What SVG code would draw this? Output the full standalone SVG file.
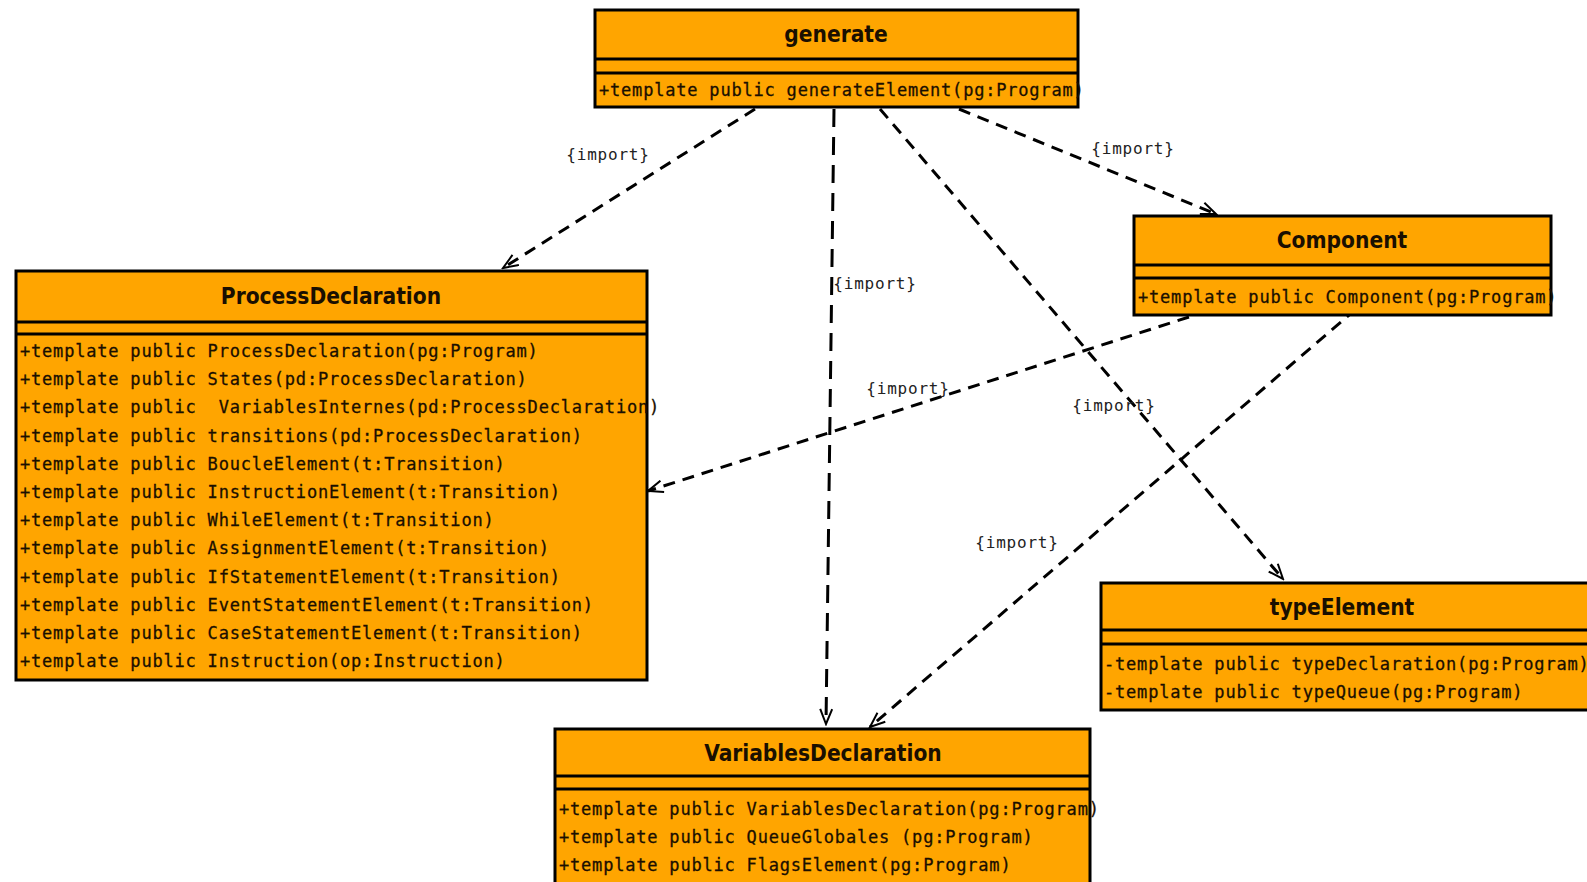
<svg xmlns="http://www.w3.org/2000/svg" width="1587" height="882" viewBox="0 0 1587 882">
  <style>
    .box { fill: #FFA500; stroke: #000; stroke-width: 3; }
    .sep { stroke: #000; stroke-width: 3; }
    .title { font-family: "DejaVu Sans Condensed", "DejaVu Sans", sans-serif; font-stretch: condensed; font-weight: bold; font-size: 22.5px; fill: #1a0f00; text-anchor: middle; }
    .op { font-family: "DejaVu Sans Mono", "Liberation Mono", monospace; font-size: 17px; letter-spacing: 0.8px; fill: #1a0f00; white-space: pre; stroke: #1a0f00; stroke-width: 0.3; }
    .dep { fill: none; stroke: #000; stroke-width: 3; stroke-dasharray: 12 8; marker-end: url(#open); }
    .long { stroke-dasharray: 18 10; }
    .lbl { font-family: "DejaVu Sans Mono", "Liberation Mono", monospace; font-size: 16px; letter-spacing: 0.8px; fill: #222; text-anchor: middle; }
  </style>
  <defs>
    <marker id="open" markerWidth="18" markerHeight="14" refX="16" refY="7" orient="auto" markerUnits="userSpaceOnUse">
      <path d="M1,1 L16,7 L1,13" fill="none" stroke="#000" stroke-width="2"/>
    </marker>
  </defs>
  <rect width="1587" height="882" fill="#fff"/>

  <!-- dependency connectors -->
  <g id="connectors">
    <line class="dep" x1="755" y1="109" x2="503" y2="268"/>
    <line class="dep long" x1="834" y1="109" x2="826" y2="724"/>
    <line class="dep" x1="880" y1="109" x2="1283" y2="579"/>
    <line class="dep" x1="959" y1="109" x2="1216" y2="214"/>
    <line class="dep" x1="1189" y1="317" x2="648" y2="491"/>
    <line class="dep" x1="1356" y1="309" x2="870" y2="727"/>
    <text class="lbl" x="608" y="160">{import}</text>
    <text class="lbl" x="875" y="289">{import}</text>
    <text class="lbl" x="1114" y="411">{import}</text>
    <text class="lbl" x="1133" y="154">{import}</text>
    <text class="lbl" x="908" y="394">{import}</text>
    <text class="lbl" x="1017" y="548">{import}</text>
  </g>

  <!-- generate -->
  <g id="generate">
    <rect class="box" x="595" y="10" width="483" height="97"/>
    <line class="sep" x1="595" y1="59" x2="1078" y2="59"/>
    <line class="sep" x1="595" y1="73" x2="1078" y2="73"/>
    <text class="title" x="836" y="42">generate</text>
    <text class="op" x="599" y="96">+template public generateElement(pg:Program)</text>
  </g>

  <!-- Component -->
  <g id="Component">
    <rect class="box" x="1134" y="216" width="417" height="99"/>
    <line class="sep" x1="1134" y1="265" x2="1551" y2="265"/>
    <line class="sep" x1="1134" y1="278" x2="1551" y2="278"/>
    <text class="title" x="1342" y="248">Component</text>
    <text class="op" x="1138" y="303">+template public Component(pg:Program)</text>
  </g>

  <!-- ProcessDeclaration -->
  <g id="ProcessDeclaration">
    <rect class="box" x="16" y="271" width="631" height="409"/>
    <line class="sep" x1="16" y1="322" x2="647" y2="322"/>
    <line class="sep" x1="16" y1="334" x2="647" y2="334"/>
    <text class="title" x="331" y="304">ProcessDeclaration</text>
    <text class="op" x="20" y="357">+template public ProcessDeclaration(pg:Program)</text>
    <text class="op" x="20" y="385">+template public States(pd:ProcessDeclaration)</text>
    <text class="op" x="20" y="413">+template public  VariablesInternes(pd:ProcessDeclaration)</text>
    <text class="op" x="20" y="442">+template public transitions(pd:ProcessDeclaration)</text>
    <text class="op" x="20" y="470">+template public BoucleElement(t:Transition)</text>
    <text class="op" x="20" y="498">+template public InstructionElement(t:Transition)</text>
    <text class="op" x="20" y="526">+template public WhileElement(t:Transition)</text>
    <text class="op" x="20" y="554">+template public AssignmentElement(t:Transition)</text>
    <text class="op" x="20" y="583">+template public IfStatementElement(t:Transition)</text>
    <text class="op" x="20" y="611">+template public EventStatementElement(t:Transition)</text>
    <text class="op" x="20" y="639">+template public CaseStatementElement(t:Transition)</text>
    <text class="op" x="20" y="667">+template public Instruction(op:Instruction)</text>
  </g>

  <!-- typeElement -->
  <g id="typeElement">
    <rect class="box" x="1101" y="583" width="500" height="127"/>
    <line class="sep" x1="1101" y1="630" x2="1601" y2="630"/>
    <line class="sep" x1="1101" y1="644" x2="1601" y2="644"/>
    <text class="title" x="1342" y="615">typeElement</text>
    <text class="op" x="1104" y="670">-template public typeDeclaration(pg:Program)</text>
    <text class="op" x="1104" y="698">-template public typeQueue(pg:Program)</text>
  </g>

  <!-- VariablesDeclaration -->
  <g id="VariablesDeclaration">
    <rect class="box" x="555" y="729" width="535" height="170"/>
    <line class="sep" x1="555" y1="776" x2="1090" y2="776"/>
    <line class="sep" x1="555" y1="789" x2="1090" y2="789"/>
    <text class="title" x="823" y="761">VariablesDeclaration</text>
    <text class="op" x="559" y="815">+template public VariablesDeclaration(pg:Program)</text>
    <text class="op" x="559" y="843">+template public QueueGlobales (pg:Program)</text>
    <text class="op" x="559" y="871">+template public FlagsElement(pg:Program)</text>
  </g>
</svg>
